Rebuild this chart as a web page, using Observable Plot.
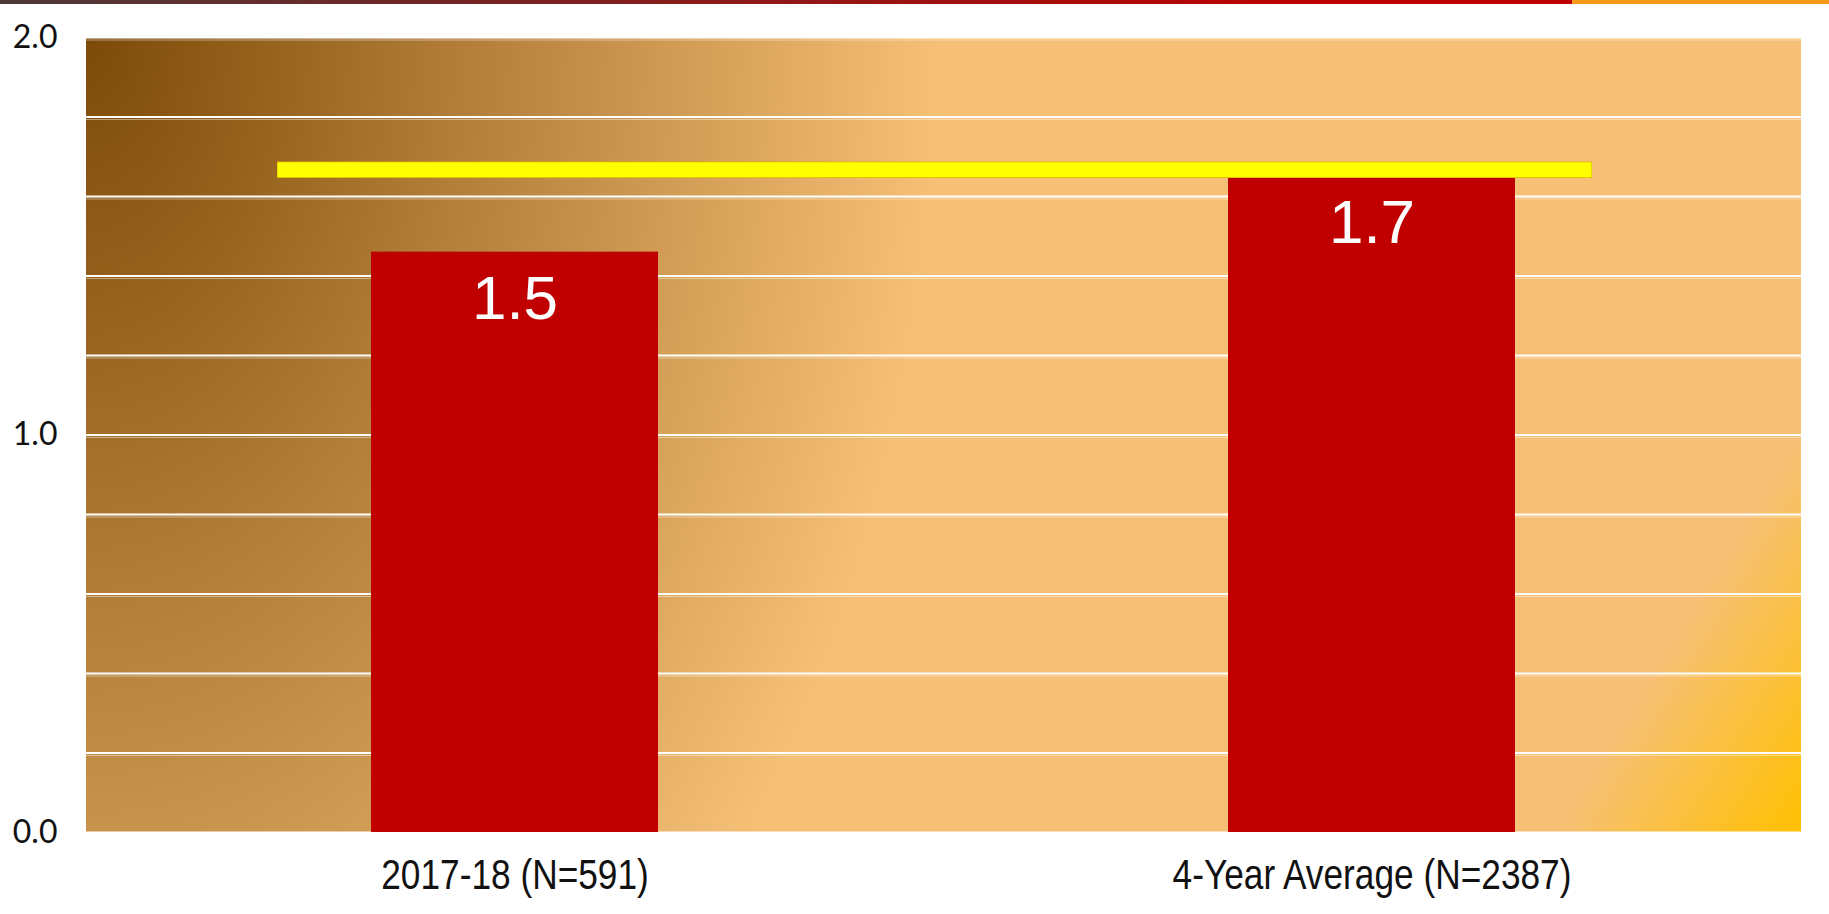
<!DOCTYPE html>
<html>
<head>
<meta charset="utf-8">
<script src="https://cdn.jsdelivr.net/npm/d3@7"></script>
<script src="https://cdn.jsdelivr.net/npm/@observablehq/plot@0.6"></script>
<style>
  html, body { margin: 0; padding: 0; background: #fff; }
  #wrap { position: relative; width: 1829px; height: 914px; overflow: hidden; }
  #strip { position: absolute; left: 0; top: 0; width: 1829px; height: 4px;
    background: linear-gradient(to right, #4d3838 0px, #c00000 1340px, #c00000 1572px, #f39c1a 1572px, #f39c1a 1829px); }
  #chart svg { display: block; }
</style>
</head>
<body>
<div id="wrap">
  <div id="chart"></div>
  <div id="strip"></div>
</div>
<script>
// ---- data ----
const categories = ["2017-18 (N=591)", "4-Year Average (N=2387)"];
const values = [1.46, 1.65];
const valueLabels = ["1.5", "1.7"];
const referenceValue = [1.667];
const gridTicks = [0, 0.2, 0.4, 0.6, 0.8, 1.0, 1.2, 1.4, 1.6, 1.8, 2.0];
const axisTicks = [0, 1, 2];

const rows = categories.map((c, i) => ({category: c, value: values[i], label: valueLabels[i]}));

// gradient background mark (dark brown corner -> peach -> amber corner)
function background(index, scales, vals, dims) {
  const {width, height, marginLeft, marginRight, marginTop, marginBottom} = dims;
  const w = width - marginLeft - marginRight;
  const h = height - marginTop - marginBottom;
  const g = d3.create("svg:g");
  const defs = g.append("defs");
  const rad = defs.append("radialGradient")
    .attr("id", "bgRad")
    .attr("gradientUnits", "userSpaceOnUse")
    .attr("cx", marginLeft).attr("cy", marginTop)
    .attr("fx", marginLeft).attr("fy", marginTop)
    .attr("r", w * 0.5)
    .attr("gradientTransform", `translate(${marginLeft},${marginTop}) scale(1,1.5) translate(${-marginLeft},${-marginTop})`);
  [[0, "#7c4a07", 1], [1, "#f7c077", 1]].forEach(([o, c, a]) =>
    rad.append("stop").attr("offset", o).attr("stop-color", c).attr("stop-opacity", a));
  const nx = 0.851, ny = 0.526;
  const p0 = w * 0.97, p1 = w * nx + h * ny;
  const lin = defs.append("linearGradient")
    .attr("id", "bgLin")
    .attr("gradientUnits", "userSpaceOnUse")
    .attr("x1", marginLeft + p0 * nx).attr("y1", marginTop + p0 * ny)
    .attr("x2", marginLeft + p1 * nx).attr("y2", marginTop + p1 * ny);
  [[0, "#ffc000", 0], [1, "#ffc000", 1]].forEach(([o, c, a]) =>
    lin.append("stop").attr("offset", o).attr("stop-color", c).attr("stop-opacity", a));
  g.append("rect")
    .attr("x", marginLeft).attr("y", marginTop)
    .attr("width", w).attr("height", h)
    .attr("fill", "url(#bgRad)");
  g.append("rect")
    .attr("x", marginLeft).attr("y", marginTop)
    .attr("width", w).attr("height", h)
    .attr("fill", "url(#bgLin)");
  return g.node();
}

const chart = Plot.plot({
  width: 1829,
  height: 914,
  marginLeft: 86,
  marginRight: 28,
  marginTop: 37,
  marginBottom: 82,
  style: {background: "transparent", overflow: "visible"},
  x: {type: "band", domain: categories, paddingInner: 0.665, paddingOuter: 0.3325, label: null},
  y: {domain: [0, 2], label: null},
  marks: [
    background,
    Plot.ruleY(gridTicks, {stroke: "#fff", strokeWidth: 1, strokeOpacity: 0.45, dy: 2.5}),
    Plot.ruleY(gridTicks, {stroke: "#fff", strokeWidth: 2}),
    Plot.barY(rows, {x: "category", y: "value", fill: "#c00000"}),
    Plot.ruleY(referenceValue, {stroke: "#d8b000", strokeWidth: 16.5, insetLeft: 191, insetRight: 209}),
    Plot.ruleY(referenceValue, {stroke: "#ffff00", strokeWidth: 15, insetLeft: 191.5, insetRight: 209.5}),
    Plot.text(rows, {x: "category", y: "value", text: "label", fill: "#fff",
      fontSize: 62, fontFamily: "'Liberation Sans', Arial, sans-serif", lineAnchor: "middle", dy: 47}),
    Plot.axisY(axisTicks, {tickFormat: d3.format(".1f"), tickSize: 0, tickPadding: 29,
      fontSize: 32, fontFamily: "Lato, 'Open Sans', sans-serif", fill: "#111", label: null}),
    Plot.axisX({tickSize: 0, tickPadding: 27, fontSize: 42,
      fontFamily: "'Liberation Sans', Arial, sans-serif", fill: "#111", label: null})
  ]
});

// condense the category labels horizontally (the original uses a condensed face)
d3.select(chart).selectAll('g[aria-label="x-axis tick label"] text').each(function () {
  const t = this.getAttribute("transform") || "";
  this.setAttribute("transform", t + " scale(0.84,1)");
});

document.getElementById("chart").appendChild(chart);
</script>
</body>
</html>
